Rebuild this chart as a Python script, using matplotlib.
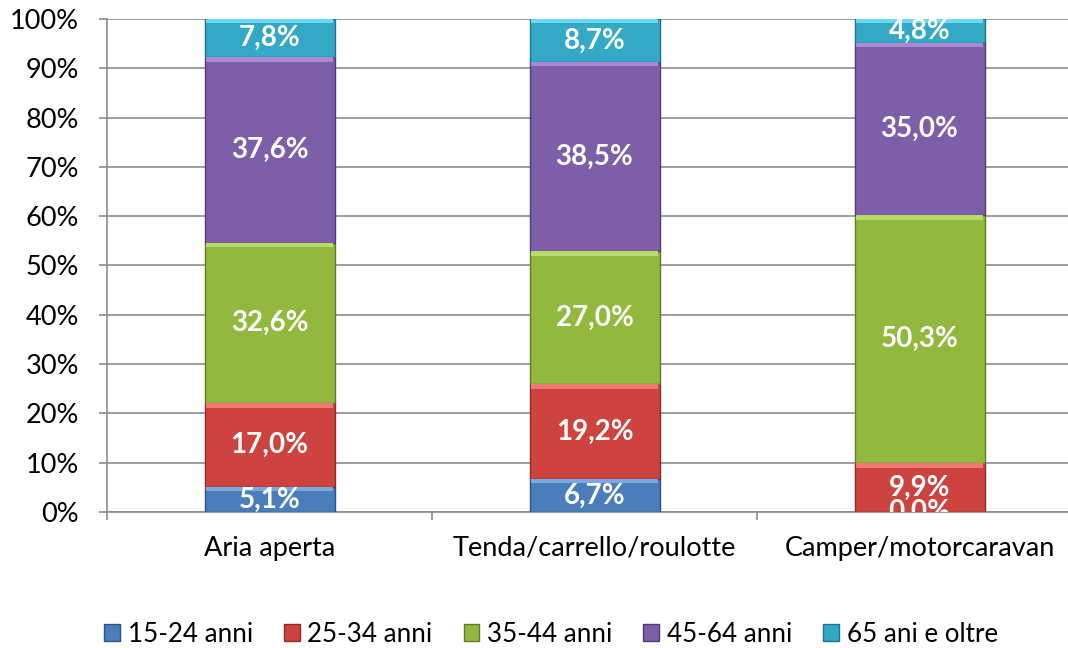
import numpy as np
import matplotlib.pyplot as plt
from matplotlib.ticker import PercentFormatter

categories = ['Aria aperta', 'Tenda/carrello/roulotte', 'Camper/motorcaravan']
series = ['15-24 anni', '25-34 anni', '35-44 anni', '45-64 anni', '65 ani e oltre']
values = {
    '15-24 anni':     [5.1, 6.7, 0.0],
    '25-34 anni':     [17.0, 19.2, 9.9],
    '35-44 anni':     [32.6, 27.0, 50.3],
    '45-64 anni':     [37.6, 38.5, 35.0],
    '65 ani e oltre': [7.8, 8.7, 4.8],
}

colors = ['#4a7ebb', '#cc4340', '#92b83e', '#7d5ea8', '#33a9c5']
edges = ['#2c5282', '#8e2a28', '#5f7d23', '#523b73', '#1f7388']
lights = ['#7aa8e0', '#f07875', '#b8dc6a', '#a888d0', '#6ad8f0']

plt.rcParams['font.family'] = ['Lato', 'DejaVu Sans']

fig = plt.figure(figsize=(10.68, 6.48), dpi=100)
ax = fig.add_axes([107/1068, 1-512/648, 975/1068, 493/648])

x = np.arange(len(categories))
data = np.array([values[s] for s in series])
totals = data.sum(axis=0)
frac = data / totals * 100
w = 0.4
bottom = np.zeros(len(categories))
for i, s in enumerate(series):
    h = frac[i]
    ax.bar(x, h, w, bottom=bottom, color=colors[i], edgecolor=edges[i],
           linewidth=1.0, label=s, zorder=3)
    # top highlight to mimic bevel
    hl = np.minimum(h, 0.9)
    ax.bar(x, hl, w * 0.98, bottom=bottom + h - hl, color=lights[i],
           linewidth=0, zorder=4)
    for j in range(len(categories)):
        ax.text(x[j], bottom[j] + h[j] / 2, f'{data[i, j]:.1f}%'.replace('.', ','),
                ha='center', va='center', color='white', fontsize=20,
                fontweight='bold', zorder=5, clip_on=True)
    bottom += h

ax.set_xlim(-0.5, 2.5)
ax.set_ylim(0, 100)
ax.yaxis.set_major_locator(plt.MultipleLocator(10))
ax.yaxis.set_major_formatter(PercentFormatter(decimals=0))
ax.grid(axis='y', color='#8c8c8c', linewidth=1.2, zorder=0)
ax.set_axisbelow(True)

ax.set_xticks(x)
ax.set_xticklabels(categories, fontsize=19.5)
ax.set_xticks([-0.5, 0.5, 1.5, 2.5], minor=True)
ax.tick_params(axis='x', which='major', length=0, pad=17)
ax.tick_params(axis='x', which='minor', length=6, color='#8c8c8c', width=1.2)
ax.tick_params(axis='y', length=6, color='#8c8c8c', width=1.2, labelsize=19.5, pad=14)

for sp in ['top', 'right']:
    ax.spines[sp].set_visible(False)
for sp in ['left', 'bottom']:
    ax.spines[sp].set_color('#8c8c8c')
    ax.spines[sp].set_linewidth(1.2)

handles, labels = ax.get_legend_handles_labels()
fig.legend(handles, labels, loc='center', bbox_to_anchor=(551/1068, 1-634/648),
           ncol=5, frameon=False, fontsize=18.7, handlelength=0.6, handleheight=0.6,
           handletextpad=0.3, columnspacing=1.2)

fig.savefig('out.png', dpi=100)
